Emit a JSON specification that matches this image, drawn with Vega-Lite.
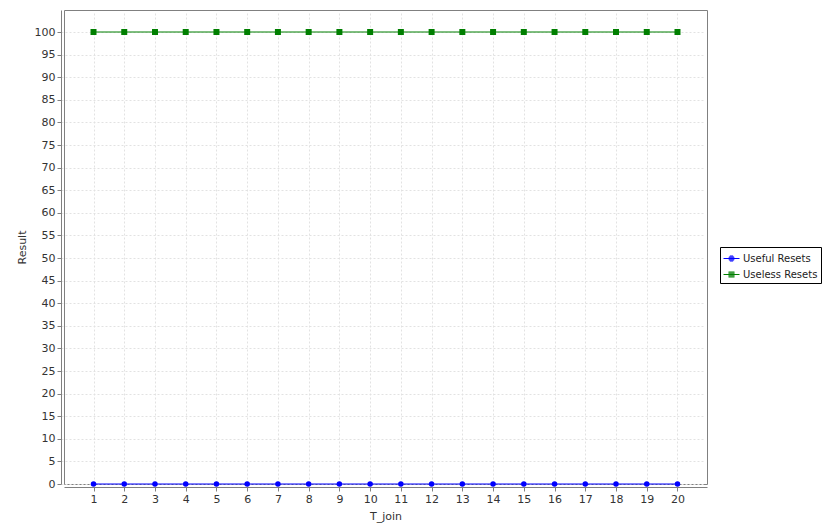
{
  "$schema": "https://vega.github.io/schema/vega-lite/v6.json",
  "width": 643,
  "height": 474,
  "autosize": "none",
  "padding": {"left": 64, "top": 10, "right": 119, "bottom": 46},
  "background": "white",
  "config": {
    "font": "DejaVu Sans",
    "view": {"stroke": "#808080", "strokeWidth": 1},
    "axis": {
      "labelFont": "DejaVu Sans",
      "labelFontSize": 11,
      "labelColor": "#333333",
      "titleFont": "DejaVu Sans",
      "titleFontSize": 11,
      "titleFontWeight": "normal",
      "titleColor": "#333333",
      "domainColor": "#808080",
      "tickColor": "#808080",
      "gridColor": "#e2e2e2",
      "gridDash": [2, 2],
      "gridWidth": 1,
      "offset": 3,
      "tickSize": 4,
      "labelPadding": 2
    }
  },
  "data": {
    "values": [
      {"t": 1, "series": "Useful Resets", "v": 0}, {"t": 2, "series": "Useful Resets", "v": 0},
      {"t": 3, "series": "Useful Resets", "v": 0}, {"t": 4, "series": "Useful Resets", "v": 0},
      {"t": 5, "series": "Useful Resets", "v": 0}, {"t": 6, "series": "Useful Resets", "v": 0},
      {"t": 7, "series": "Useful Resets", "v": 0}, {"t": 8, "series": "Useful Resets", "v": 0},
      {"t": 9, "series": "Useful Resets", "v": 0}, {"t": 10, "series": "Useful Resets", "v": 0},
      {"t": 11, "series": "Useful Resets", "v": 0}, {"t": 12, "series": "Useful Resets", "v": 0},
      {"t": 13, "series": "Useful Resets", "v": 0}, {"t": 14, "series": "Useful Resets", "v": 0},
      {"t": 15, "series": "Useful Resets", "v": 0}, {"t": 16, "series": "Useful Resets", "v": 0},
      {"t": 17, "series": "Useful Resets", "v": 0}, {"t": 18, "series": "Useful Resets", "v": 0},
      {"t": 19, "series": "Useful Resets", "v": 0}, {"t": 20, "series": "Useful Resets", "v": 0},
      {"t": 1, "series": "Useless Resets", "v": 100}, {"t": 2, "series": "Useless Resets", "v": 100},
      {"t": 3, "series": "Useless Resets", "v": 100}, {"t": 4, "series": "Useless Resets", "v": 100},
      {"t": 5, "series": "Useless Resets", "v": 100}, {"t": 6, "series": "Useless Resets", "v": 100},
      {"t": 7, "series": "Useless Resets", "v": 100}, {"t": 8, "series": "Useless Resets", "v": 100},
      {"t": 9, "series": "Useless Resets", "v": 100}, {"t": 10, "series": "Useless Resets", "v": 100},
      {"t": 11, "series": "Useless Resets", "v": 100}, {"t": 12, "series": "Useless Resets", "v": 100},
      {"t": 13, "series": "Useless Resets", "v": 100}, {"t": 14, "series": "Useless Resets", "v": 100},
      {"t": 15, "series": "Useless Resets", "v": 100}, {"t": 16, "series": "Useless Resets", "v": 100},
      {"t": 17, "series": "Useless Resets", "v": 100}, {"t": 18, "series": "Useless Resets", "v": 100},
      {"t": 19, "series": "Useless Resets", "v": 100}, {"t": 20, "series": "Useless Resets", "v": 100}
    ]
  },
  "encoding": {
    "x": {
      "field": "t", "type": "ordinal", "title": "T_join",
      "scale": {"type": "point", "padding": 0.96},
      "axis": {"labelAngle": 0, "grid": true, "titlePadding": 6}
    },
    "y": {
      "field": "v", "type": "quantitative", "title": "Result",
      "scale": {"domain": [0, 104.87], "nice": false, "zero": false},
      "axis": {"values": [0,5,10,15,20,25,30,35,40,45,50,55,60,65,70,75,80,85,90,95,100], "grid": true, "titlePadding": 7}
    }
  },
  "layer": [
    {
      "transform": [{"filter": "datum.series === 'Useful Resets'"}],
      "mark": {"type": "line", "strokeWidth": 1, "color": "#0000ff", "point": {"filled": true, "size": 30, "shape": "circle", "color": "#0000ff", "opacity": 1}}
    },
    {
      "transform": [{"filter": "datum.series === 'Useless Resets'"}],
      "mark": {"type": "line", "strokeWidth": 1, "color": "#007f00", "point": {"filled": true, "size": 36, "shape": "square", "color": "#007f00", "opacity": 1}}
    },
    {
      "transform": [{"filter": "datum.t > 100"}],
      "mark": {"type": "point", "filled": false, "opacity": 1, "strokeWidth": 1, "size": 256},
      "encoding": {
        "color": {
          "field": "series", "type": "nominal",
          "scale": {"domain": ["Useful Resets", "Useless Resets"], "range": ["#0000ff", "#007f00"]},
          "legend": {
            "title": null,
            "orient": "none",
            "legendX": 656,
            "legendY": 237,
            "strokeColor": "black",
            "fillColor": "white",
            "padding": 3,
            "labelFont": "DejaVu Sans",
            "labelFontSize": 10,
            "labelColor": "#222222",
            "symbolSize": 256,
            "symbolStrokeWidth": 1,
            "symbolOpacity": 1,
            "rowPadding": 2,
            "labelOffset": 3
          }
        },
        "shape": {
          "field": "series", "type": "nominal",
          "scale": {
            "domain": ["Useful Resets", "Useless Resets"],
            "range": [
              "M-1,0H1M-0.37,-0.0625H0.37M-0.37,0.0625H0.37M-0.325,-0.1875H0.325M-0.325,0.1875H0.325M-0.207,-0.3125H0.207M-0.207,0.3125H0.207",
              "M-1,0H1M-0.375,-0.0625H0.375M-0.375,0.0625H0.375M-0.375,-0.1875H0.375M-0.375,0.1875H0.375M-0.375,-0.3125H0.375M-0.375,0.3125H0.375"
            ]
          },
          "legend": {
            "title": null,
            "orient": "none",
            "legendX": 656,
            "legendY": 237,
            "strokeColor": "black",
            "fillColor": "white",
            "padding": 3,
            "labelFont": "DejaVu Sans",
            "labelFontSize": 10,
            "labelColor": "#222222",
            "symbolSize": 256,
            "symbolStrokeWidth": 1,
            "symbolOpacity": 1,
            "rowPadding": 2,
            "labelOffset": 3
          }
        }
      }
    }
  ]
}
